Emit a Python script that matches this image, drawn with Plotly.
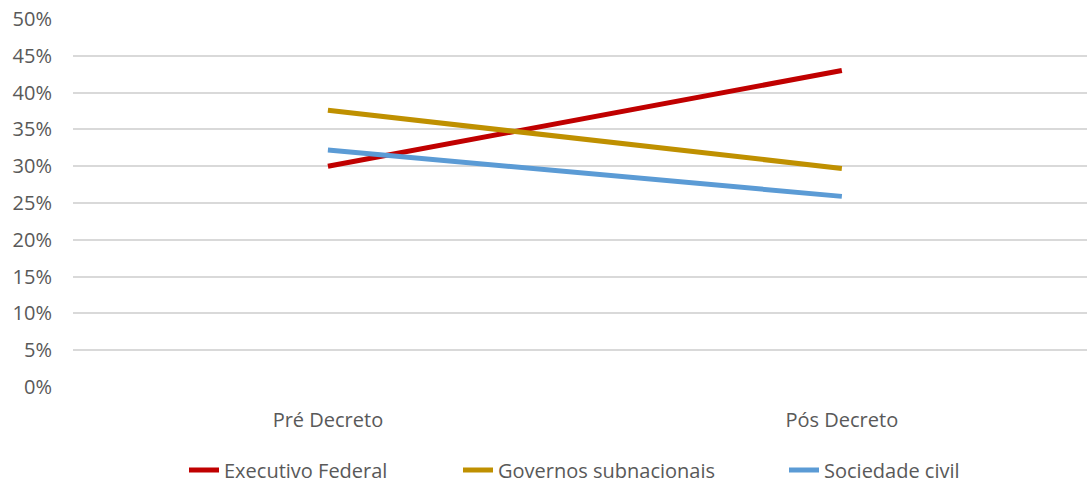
import plotly.graph_objects as go

categories = ["Pré Decreto", "Pós Decreto"]
series_names = ["Executivo Federal", "Governos subnacionais", "Sociedade civil"]
executivo = [0.300, 0.430]
governos = [0.376, 0.297]
sociedade = [0.322, 0.259]
colors = ["#C00000", "#BF9000", "#5B9BD5"]
y_ticks = [i / 100 for i in range(0, 51, 5)]
y_ticklabels = [f"{i}%" for i in range(0, 51, 5)]

legend_ids = ["legend", "legend2", "legend3"]
legend_x_px = [184, 458, 784]

fig = go.Figure()
for name, vals, c, lid in zip(series_names, [executivo, governos, sociedade], colors, legend_ids):
    fig.add_trace(go.Scatter(x=[0, 1], y=vals, mode="lines", name=name, legend=lid,
                             line=dict(color=c, width=5)))

font = dict(family="Open Sans, Liberation Sans, sans-serif", size=20, color="#595959")
legend_layout = {}
for lid, px in zip(legend_ids, legend_x_px):
    legend_layout[lid] = dict(orientation="h", x=px / 1087, xref="container", xanchor="left",
                              y=0.027, yref="container", yanchor="middle",
                              font=font, bgcolor="rgba(0,0,0,0)")
fig.update_layout(
    width=1087, height=483, autosize=False,
    margin=dict(l=73, r=0, t=19, b=96, autoexpand=False),
    plot_bgcolor="white", paper_bgcolor="white",
    font=font,
    showlegend=True,
    xaxis=dict(range=[-0.496, 1.477], tickmode="array", tickvals=[0, 1], ticktext=categories,
               showgrid=False, zeroline=False, showline=False, ticks="", automargin=False,
               ticklabelstandoff=19, tickfont=font),
    yaxis=dict(range=[0, 0.5], tickmode="array", tickvals=y_ticks, ticktext=y_ticklabels,
               showgrid=True, gridcolor="#D9D9D9", gridwidth=1.5, zeroline=False, automargin=False,
               showline=False, ticks="", ticklabelstandoff=20, tickfont=font),
    **legend_layout,
)
fig.write_html("out.html")
